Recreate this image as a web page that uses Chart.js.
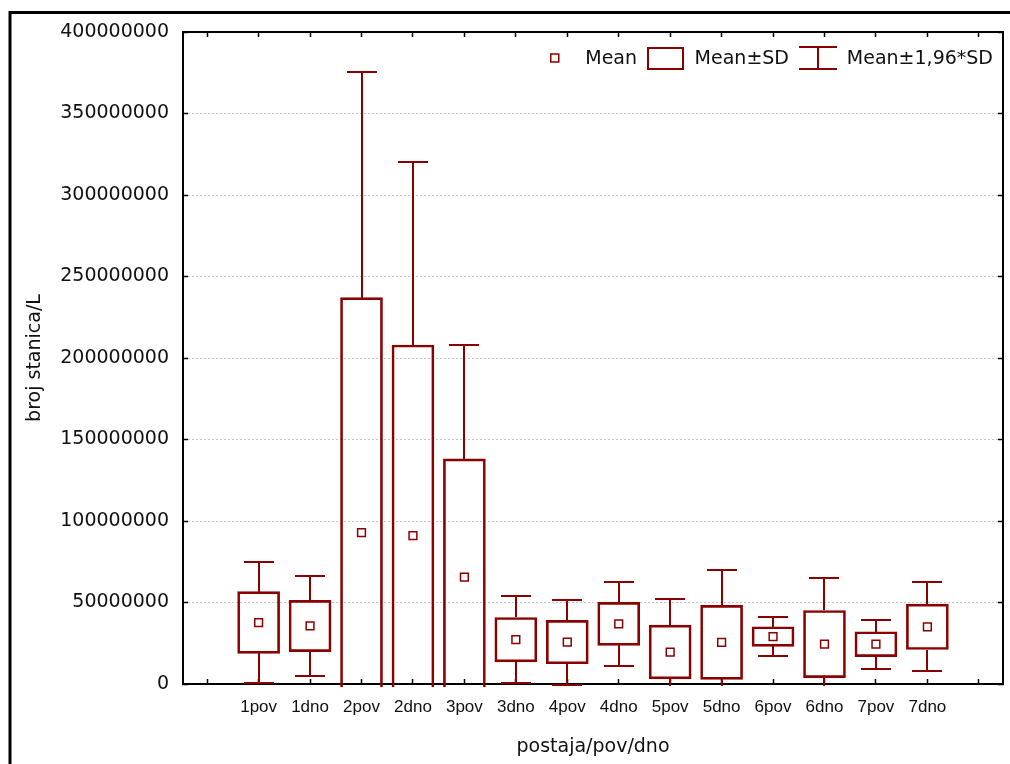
<!DOCTYPE html>
<html>
<head>
<meta charset="utf-8">
<title>broj stanica/L</title>
<script src="https://cdn.jsdelivr.net/npm/chart.js@4/dist/chart.umd.min.js"></script>
<style>
  html, body { margin: 0; padding: 0; background: #fff; }
  canvas { display: block; }
</style>
</head>
<body>
<canvas id="plot1" width="1010" height="764"></canvas>
<script>
// postaje (površina / dno)
let postaje = ['1pov', '1dno', '2pov', '2dno', '3pov', '3dno', '4pov', '4dno', '5pov', '5dno', '6pov', '6dno', '7pov', '7dno'];
// srednja vrijednost i standardna devijacija, broj stanica/L
let srednje = [37.7e6, 35.6e6, 92.9e6, 91.0e6, 65.5e6, 27.2e6, 25.7e6, 36.9e6, 19.6e6, 25.5e6, 29.1e6, 24.5e6, 24.4e6, 35.1e6];
let devijacije = [18.95e6, 15.7e6, 144.1e6, 117.0e6, 72.6e6, 13.6e6, 13.3e6, 13.2e6, 16.5e6, 22.7e6, 6.0e6, 20.6e6, 7.65e6, 13.95e6];
let faktor = 1.96;
let yMax = 400000000;
let yKorak = 50000000;

let crvena = '#8b0000';
let tekst = '#111';
let xMin = -0.47, xMax = 15.47;

Chart.defaults.font.family = '"DejaVu Sans"';
Chart.defaults.font.size = 19;
Chart.defaults.color = tekst;

// brkovi: od ruba kutije do mean ± 1,96*SD
let brkovi = {
  id: 'brkovi',
  beforeDatasetsDraw(chart) {
    let {ctx, chartArea, scales: {x, y}} = chart;
    ctx.save();
    ctx.beginPath();
    ctx.rect(chartArea.left, chartArea.top, chartArea.right - chartArea.left, chartArea.bottom - chartArea.top + 2);
    ctx.clip();
    ctx.strokeStyle = crvena;
    ctx.lineWidth = 2;
    srednje.forEach((m, i) => {
      let px = Math.round(x.getPixelForValue(i + 1));
      let sd = devijacije[i];
      [[m + sd, m + faktor * sd], [m - sd, m - faktor * sd]].forEach(([od, kraj]) => {
        let y1 = Math.round(y.getPixelForValue(od));
        let y2 = Math.round(y.getPixelForValue(kraj));
        ctx.beginPath();
        ctx.moveTo(px, y1);
        ctx.lineTo(px, y2);
        ctx.moveTo(px - 15, y2);
        ctx.lineTo(px + 15, y2);
        ctx.stroke();
      });
    });
    ctx.restore();
  }
};

// okvir oko cijele slike
let okvir = {
  id: 'okvir',
  beforeDraw(chart) {
    let {ctx, width, height} = chart;
    ctx.save();
    ctx.fillStyle = '#fff';
    ctx.fillRect(0, 0, width, height);
    ctx.strokeStyle = '#000';
    ctx.lineWidth = 3;
    ctx.strokeRect(10, 12.5, width + 100, height + 100);
    ctx.restore();
  }
};

// legenda unutar grafa, desno gore
let legenda = {
  id: 'legenda',
  afterDraw(chart) {
    let {ctx, chartArea} = chart;
    let yc = chartArea.top + 26;
    let stavke = [
      {tekst: 'Mean', sirina: 9, razmak: 26, crtaj: (x) => {
        ctx.lineWidth = 1.5;
        ctx.strokeRect(x + 0.75, yc - 4, 8, 8);
      }},
      {tekst: 'Mean±SD', sirina: 37, razmak: 11, crtaj: (x) => {
        ctx.lineWidth = 2;
        ctx.strokeRect(x + 1, yc - 10, 35, 21);
      }},
      {tekst: 'Mean±1,96*SD', sirina: 38, razmak: 10, crtaj: (x) => {
        ctx.lineWidth = 2;
        ctx.beginPath();
        ctx.moveTo(x, yc - 11); ctx.lineTo(x + 38, yc - 11);
        ctx.moveTo(x + 19, yc - 11); ctx.lineTo(x + 19, yc + 11);
        ctx.moveTo(x, yc + 11); ctx.lineTo(x + 38, yc + 11);
        ctx.stroke();
      }}
    ];
    ctx.save();
    ctx.font = '19px "DejaVu Sans"';
    ctx.textBaseline = 'middle';
    ctx.textAlign = 'left';
    let kraj = chartArea.right - 10;
    for (let i = stavke.length - 1; i >= 0; i--) {
      let s = stavke[i];
      let w = ctx.measureText(s.tekst).width;
      let tx = kraj - w;
      ctx.fillStyle = tekst;
      ctx.fillText(s.tekst, tx, yc + 1);
      let gx = Math.round(tx - s.razmak - s.sirina);
      ctx.strokeStyle = crvena;
      ctx.fillStyle = '#fff';
      s.crtaj(gx);
      kraj = gx - 10;
    }
    ctx.restore();
  }
};

let plotRef = document.getElementById('plot1');
let config = {
  type: 'bar',
  data: {
    datasets: [
      {
        type: 'scatter',
        label: 'Mean',
        data: srednje.map((m, i) => ({x: i + 1, y: m})),
        pointStyle: 'rect',
        pointRadius: 5.5,
        pointBorderWidth: 1.5,
        borderColor: crvena,
        backgroundColor: '#fff',
        order: 1
      },
      {
        type: 'bar',
        label: 'Mean±SD',
        data: srednje.map((m, i) => ({x: i + 1, y: [m - devijacije[i], m + devijacije[i]]})),
        barThickness: 42,
        grouped: false,
        borderWidth: 2,
        borderSkipped: false,
        borderColor: crvena,
        backgroundColor: 'rgba(0,0,0,0)',
        clip: {left: 0, top: 0, right: 0, bottom: 3},
        order: 2
      }
    ]
  },
  options: {
    responsive: false,
    animation: false,
    layout: {padding: 0},
    plugins: {
      legend: {display: false},
      tooltip: {enabled: false}
    },
    scales: {
      x: {
        type: 'linear',
        position: 'bottom',
        offset: false,
        min: xMin,
        max: xMax,
        afterFit: (s) => { s.height = 80; },
        ticks: {
          stepSize: 1,
          includeBounds: false,
          autoSkip: false,
          maxRotation: 0,
          padding: 18,
          font: {family: '"Liberation Sans"', size: 17},
          callback: (v) => postaje[v - 1] || ''
        },
        grid: {offset: false, drawOnChartArea: false, tickLength: -5, tickColor: '#000', tickWidth: 1.5},
        border: {color: '#000', width: 2},
        title: {display: true, text: 'postaja/pov/dno', font: {size: 19}, padding: {top: 0, bottom: 6}}
      },
      x2: {
        type: 'linear',
        position: 'top',
        offset: false,
        min: xMin,
        max: xMax,
        afterFit: (s) => { s.height = 32; },
        ticks: {display: false, stepSize: 1, includeBounds: false},
        grid: {offset: false, drawOnChartArea: false, tickLength: -5, tickColor: '#000', tickWidth: 1.5},
        border: {color: '#000', width: 2}
      },
      y: {
        type: 'linear',
        position: 'left',
        min: 0,
        max: yMax,
        afterFit: (s) => { s.width = 183; },
        ticks: {
          stepSize: yKorak,
          padding: 19,
          callback: (v) => String(v)
        },
        grid: {color: '#c6c6c6', lineWidth: 1, tickLength: -5, tickColor: '#000', tickWidth: 1.5},
        border: {color: '#000', width: 2, dash: [2, 2]},
        title: {display: true, text: 'broj stanica/L', font: {size: 19}, padding: {top: 24, bottom: 0}}
      },
      y2: {
        type: 'linear',
        position: 'right',
        min: 0,
        max: yMax,
        afterFit: (s) => { s.width = 7; },
        ticks: {display: false, stepSize: yKorak},
        grid: {drawOnChartArea: false, tickLength: -5, tickColor: '#000', tickWidth: 1.5},
        border: {color: '#000', width: 2}
      }
    }
  },
  plugins: [okvir, brkovi, legenda]
};
let chart1 = new Chart(plotRef, config);
</script>
</body>
</html>
